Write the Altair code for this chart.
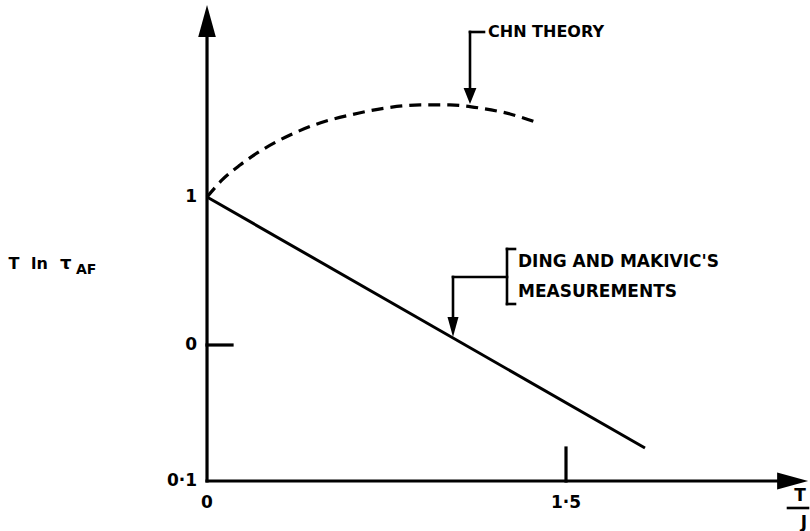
import altair as alt
import pandas as pd

# CHN theory curve: T/J against T ln tau_AF
theory_x = [0.0, 0.063, 0.138, 0.230, 0.347, 0.472, 0.598, 0.744, 0.890, 1.015, 1.141, 1.266, 1.383]
theory_y = [1.0, 1.115, 1.216, 1.318, 1.419, 1.500, 1.554, 1.601, 1.622, 1.622, 1.601, 1.561, 1.500]

# Ding and Makivic's measurements (straight-line fit)
measured_x = [0.0, 1.83]
measured_y = [1.0, -0.696]

x_tick_values = [0.0, 1.5]
x_tick_labels = ["0", "1·5"]
y_tick_values = [-0.919, 0.0, 1.0]
y_tick_labels = ["0·1", "0", "1"]

W, H = 810, 531
X_MIN, X_MAX = -0.865, 2.5195
Y_MIN, Y_MAX = -1.2568, 2.3311
Y_BASE = -0.919        # where the horizontal axis sits
X_END, Y_END = 2.40, 2.10

FONT = "DejaVu Sans"
INK = "black"

xs = alt.Scale(domain=[X_MIN, X_MAX], nice=False, zero=False)
ys = alt.Scale(domain=[Y_MIN, Y_MAX], nice=False, zero=False)


def px_x(p):
    return X_MIN + p / W * (X_MAX - X_MIN)


def px_y(p):
    return Y_MAX - p / H * (Y_MAX - Y_MIN)


def enc_xy(chart):
    return chart.encode(
        x=alt.X("x:Q", scale=xs, axis=None),
        y=alt.Y("y:Q", scale=ys, axis=None),
    )


def segments(rows, width=3.0):
    df = pd.DataFrame(rows, columns=["x", "y", "x2", "y2"])
    return alt.Chart(df).mark_rule(strokeWidth=width, color=INK, strokeCap="square").encode(
        x=alt.X("x:Q", scale=xs, axis=None),
        y=alt.Y("y:Q", scale=ys, axis=None),
        x2="x2:Q",
        y2="y2:Q",
    )


def head(x, y, path, size):
    df = pd.DataFrame({"x": [x], "y": [y]})
    return enc_xy(alt.Chart(df).mark_point(
        shape=path, size=size, filled=True, color=INK, opacity=1, strokeWidth=0))


def label(x, y, text, size=17, align="left", dx=0, dy=0, baseline="middle"):
    df = pd.DataFrame({"x": [x], "y": [y], "t": [text]})
    return enc_xy(alt.Chart(df).mark_text(
        font=FONT, fontWeight="bold", fontSize=size, color=INK,
        align=align, baseline=baseline, dx=dx, dy=dy)).encode(text="t:N")


# axes with arrowheads and ticks
axes = segments([
    (0.0, Y_BASE, X_END, Y_BASE),
    (0.0, Y_BASE, 0.0, Y_END),
    (0.0, 0.0, 0.1045, 0.0),
    (1.5, Y_BASE, 1.5, -0.696),
], width=3.2)
x_head = head(2.447, Y_BASE, "M1,0L-1,-0.55L-1,0.55Z", 961)
y_head = head(0.0, 2.189, "M0,-1L0.55,1L-0.55,1Z", 1024)

theory = enc_xy(alt.Chart(pd.DataFrame({"x": theory_x, "y": theory_y})).mark_line(
    color=INK, strokeWidth=3.2, strokeDash=[12, 7], interpolate="monotone"))
measured = enc_xy(alt.Chart(pd.DataFrame({"x": measured_x, "y": measured_y})).mark_line(
    color=INK, strokeWidth=3.0))

y_labels = enc_xy(alt.Chart(pd.DataFrame({"x": [0.0] * 3, "y": y_tick_values, "t": y_tick_labels}))
                  .mark_text(font=FONT, fontWeight="bold", fontSize=17, color=INK,
                             align="right", baseline="middle", dx=-10)).encode(text="t:N")
x_labels = enc_xy(alt.Chart(pd.DataFrame({"x": x_tick_values, "y": [Y_BASE] * 2, "t": x_tick_labels}))
                  .mark_text(font=FONT, fontWeight="bold", fontSize=17, color=INK,
                             align="center", baseline="middle", dy=22)).encode(text="t:N")

# axis titles
titles = [
    label(px_x(800), px_y(496), "T", align="center"),
    label(px_x(804), px_y(523), "J", align="center"),
    segments([(px_x(788), px_y(508), px_x(808), px_y(508))], width=2.6),
    label(px_x(14), px_y(264), "T", size=16, align="center"),
    label(px_x(31), px_y(264), "ln", size=16),
    label(px_x(60), px_y(264), "τ", size=18),
    label(px_x(76), px_y(270), "AF", size=14),
]

# callouts
callouts = [
    segments([
        (px_x(484), px_y(32), px_x(470), px_y(32)),
        (px_x(470), px_y(32), px_x(470), px_y(90)),
        (px_x(507), px_y(249), px_x(507), px_y(304)),
        (px_x(507), px_y(249), px_x(515), px_y(249)),
        (px_x(507), px_y(304), px_x(515), px_y(304)),
        (px_x(507), px_y(277), px_x(453), px_y(277)),
        (px_x(453), px_y(277), px_x(453), px_y(318)),
    ], width=2.6),
    head(px_x(470), px_y(96), "M0,1L0.8,-1L-0.8,-1Z", 256),
    head(px_x(453), px_y(327), "M0,1L0.55,-1L-0.55,-1Z", 400),
    label(px_x(488), px_y(32), "CHN THEORY", size=16),
    label(px_x(518), px_y(262), "DING AND MAKIVIC'S"),
    label(px_x(518), px_y(292), "MEASUREMENTS"),
]

chart = alt.layer(
    axes, x_head, y_head, theory, measured, y_labels, x_labels, *titles, *callouts
).properties(
    width=W, height=H, padding=0, background="white",
    autosize=alt.AutoSizeParams(type="none"),
).configure_view(stroke=None)

chart.save("out.html", embed_options={"renderer": "svg", "actions": False})
